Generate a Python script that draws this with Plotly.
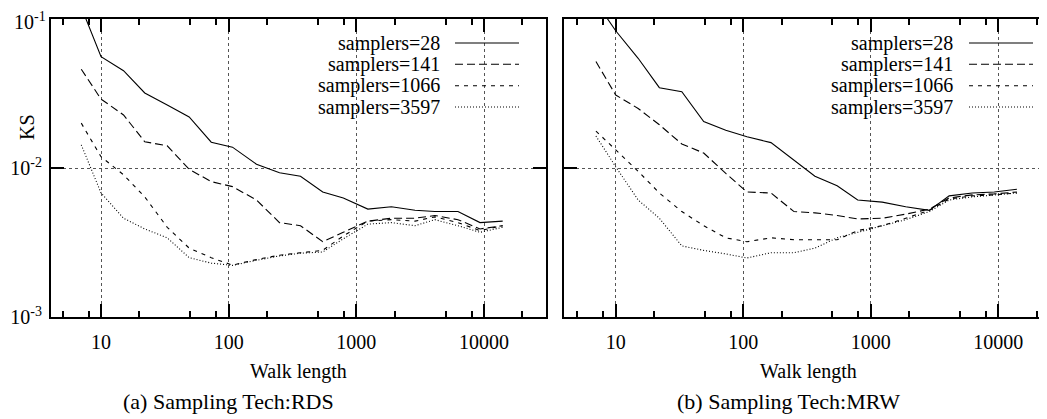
import plotly.graph_objects as go

# walk lengths (same for both panels)
walk = [7, 10, 15, 22, 33, 49, 73, 107, 165, 250, 365, 545, 790, 1230,
        1880, 2880, 4120, 6250, 9300, 14000]

labels = ['samplers=28', 'samplers=141', 'samplers=1066', 'samplers=3597']

# KS values, RDS
rds_28 = [0.12, 0.0558, 0.045, 0.0319, 0.0265, 0.022, 0.0149, 0.0138, 0.0106, 0.0093,
          0.0088, 0.0069, 0.0063, 0.0053, 0.0055, 0.0052, 0.0051, 0.0051, 0.0043, 0.0044]
rds_141 = [0.046, 0.029, 0.0227, 0.015, 0.0141, 0.0098, 0.0081, 0.0075, 0.0061, 0.0043,
           0.0041, 0.0032, 0.0037, 0.0044, 0.0046, 0.0046, 0.0048, 0.0045, 0.0039, 0.0041]
rds_1066 = [0.020, 0.0119, 0.009, 0.0064, 0.0040, 0.0029, 0.0025, 0.00223, 0.00243, 0.0026,
            0.0027, 0.0028, 0.0035, 0.0044, 0.0045, 0.0044, 0.0047, 0.0043, 0.0038, 0.0041]
rds_3597 = [0.0143, 0.0068, 0.0046, 0.0039, 0.0034, 0.0025, 0.0023, 0.00222, 0.0024, 0.00257,
            0.00268, 0.00273, 0.00335, 0.0042, 0.0043, 0.0041, 0.0045, 0.0041, 0.0037, 0.0040]

# KS values, MRW
mrw_28 = [0.13, 0.0834, 0.0545, 0.0346, 0.0325, 0.0205, 0.0179, 0.0162, 0.0148, 0.0113,
          0.0088, 0.0076, 0.0061, 0.0059, 0.0055, 0.0052, 0.0065, 0.0068, 0.0069, 0.0072]
mrw_141 = [0.0518, 0.0309, 0.0251, 0.0195, 0.0145, 0.0126, 0.0092, 0.0069, 0.0068, 0.0051,
           0.0050, 0.0048, 0.00455, 0.0046, 0.0049, 0.0053, 0.0063, 0.0066, 0.0067, 0.0069]
mrw_1066 = [0.0177, 0.0132, 0.0095, 0.0068, 0.0051, 0.0041, 0.0034, 0.0032, 0.0034, 0.0033,
            0.0033, 0.0033, 0.0038, 0.0041, 0.0046, 0.0052, 0.0062, 0.0065, 0.0066, 0.0068]
mrw_3597 = [0.0164, 0.0102, 0.0061, 0.0046, 0.0030, 0.0028, 0.00265, 0.00249, 0.0027, 0.0027,
            0.0029, 0.0034, 0.0037, 0.0041, 0.0045, 0.0051, 0.0061, 0.0064, 0.0066, 0.0068]

dashes = ['solid', '8px,4px', '4px,5px', '1px,2px']
FONT = '"Liberation Serif", "Times New Roman", Times, serif'

# the page body has an 8px margin, so the figure is 8px smaller and every
# pixel position below is given in window pixels and shifted by OFF
OFF = 8
W, H = 1047 - OFF, 419 - OFF

def px(x):
    return (x - OFF) / W

def py(y):
    return 1 - (y - OFF) / H

fig = go.Figure()
for ys, ax in [([rds_28, rds_141, rds_1066, rds_3597], ('x', 'y')),
               ([mrw_28, mrw_141, mrw_1066, mrw_3597], ('x2', 'y2'))]:
    for name, vals, d in zip(labels, ys, dashes):
        fig.add_trace(go.Scatter(x=walk, y=vals, name=name, mode='lines',
                                 line=dict(color='black', width=1.1, dash=d),
                                 xaxis=ax[0], yaxis=ax[1], showlegend=False))

minor_x = [5, 8, 20, 50, 80, 200, 500, 800, 2000, 5000, 8000, 20000]
xcommon = dict(type='log', tickvals=[10, 100, 1000, 10000],
               ticktext=['10', '100', '1000', '10000'],
               ticks='inside', ticklen=13, tickwidth=1.5, tickcolor='black',
               showline=True, linewidth=2, linecolor='black', mirror='allticks',
               showgrid=True, gridcolor='#555', griddash='dot', gridwidth=1,
               minor=dict(tickvals=minor_x, ticks='inside', ticklen=6, tickwidth=1.5,
                          tickcolor='black', showgrid=False),
               tickfont=dict(family=FONT, size=20, color='black'),
               ticklabelstandoff=6, ticklabeloverflow='allow',
               zeroline=False, automargin=False)
# top label (10^-1) sits a little below its tick, so it is placed as a note
ycommon = dict(type='log', range=[-3, -1], tickvals=[0.001, 0.01, 0.1],
               ticktext=['10<sup>-3</sup>', '10<sup>-2</sup>', ''],
               ticks='inside', ticklen=13, tickwidth=1.5, tickcolor='black',
               showline=True, linewidth=2, linecolor='black',
               showgrid=True, gridcolor='#555', griddash='dot', gridwidth=1,
               tickfont=dict(family=FONT, size=20, color='black'),
               ticklabeloverflow='allow',
               domain=[py(317), py(19)], zeroline=False, automargin=False)

fig.update_layout(
    template='none',
    width=W, height=H, margin=dict(l=0, r=0, t=0, b=0, pad=0),
    plot_bgcolor='white', paper_bgcolor='white', showlegend=False,
    font=dict(family=FONT, color='black'),
    xaxis=dict(xcommon, domain=[px(51), px(545.7)], range=[0.608, 4.483], anchor='y'),
    xaxis2=dict(xcommon, domain=[px(564.3), 1.0], range=[0.597, 4.382], anchor='y2'),
    yaxis=dict(ycommon, anchor='x', mirror='allticks', ticklabelstandoff=3),
    yaxis2=dict(ycommon, anchor='x2', mirror=False, showticklabels=False),
)

def ann(text, x, y, size=20, xanchor='center', **kw):
    fig.add_annotation(text=text, x=px(x), y=py(y), xref='paper', yref='paper',
                       xanchor=xanchor, yanchor='middle', showarrow=False,
                       font=dict(family=FONT, size=size, color='black'), **kw)

ann('10<sup>-1</sup>', 48, 21, xanchor='right')
ann('KS', 27, 127, textangle=-90)
ann('Walk length', 298, 371)
ann('Walk length', 808, 371)
ann('(a) Sampling Tech:RDS', 228, 401, size=22)
ann('(b) Sampling Tech:MRW', 788, 401, size=22)

# gnuplot-style keys: right-aligned text with line sample on the right
rows = [43, 64.3, 85.7, 107]
for txt_right, s0, s1 in [(442, 455, 519), (955, 969, 1033)]:
    for name, d, ry in zip(labels, dashes, rows):
        ann(name, txt_right, ry, xanchor='right')
        fig.add_shape(type='line', xref='paper', yref='paper',
                      x0=px(s0), x1=px(s1), y0=py(ry), y1=py(ry),
                      line=dict(color='black', width=1.1, dash=d))

fig.write_html('out.html')
